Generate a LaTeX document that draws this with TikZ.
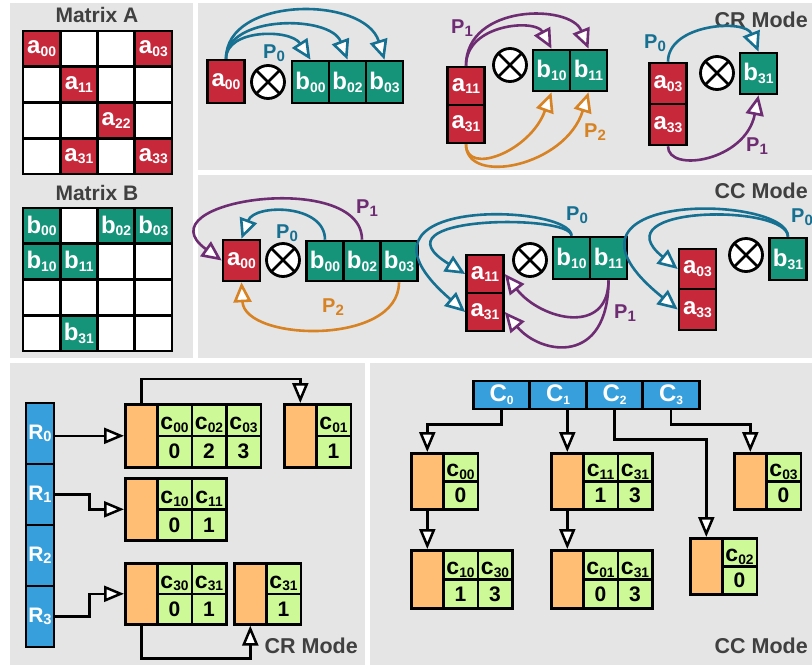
\documentclass[tikz,border=0pt]{standalone}
\usepackage{fontspec}
\setmainfont{Liberation Sans}
\usetikzlibrary{arrows.meta}

\definecolor{ared}{RGB}{199,40,58}
\definecolor{bteal}{RGB}{22,148,122}
\definecolor{pblue}{RGB}{22,112,145}
\definecolor{ppurple}{RGB}{110,45,115}
\definecolor{porange}{RGB}{215,130,35}
\definecolor{rowblue}{RGB}{55,160,220}
\definecolor{ptrfill}{RGB}{255,190,115}
\definecolor{idxfill}{RGB}{205,250,150}
\definecolor{panel}{RGB}{229,229,229}
\definecolor{title}{RGB}{64,64,64}

\newcommand\fsz[1]{\fontsize{#1}{#1}\selectfont\bfseries}
% lowered subscript, size relative to the current font
\newcommand\lo[2][0.58]{\raisebox{-0.12em}{\fontsize{#1em}{#1em}\selectfont #2}}

% pointer box followed by index/value cells
\newcommand\listblk[5]{%
  \node[ptr, minimum height=#4pt, anchor=north west] (#1) at (#2,#3) {};
  \foreach \ix/\vx [count=\k from 0] in {#5} {
    \node[idx, minimum height=#4pt/2, anchor=north west] (#1-i\k)
      at ({#2+32+34.5*\k},#3) {c\lo[0.6]{\ix}};
    \node[val, minimum height=#4pt/2, anchor=north west] (#1-v\k)
      at ({#2+32+34.5*\k},{#3+#4/2}) {\vx};
  }}

\begin{document}
\begin{tikzpicture}[x=1pt, y=-1pt,
    elt/.style={draw, line width=2.6pt, text=white, inner sep=0pt, font=\fsz{24},
      minimum width=37pt, minimum height=40pt},
    aelt/.style={elt, fill=ared},
    belt/.style={elt, fill=bteal},
    msize/.style={minimum width=37.25pt, minimum height=35.75pt},
    mcell/.style={draw, line width=2.8pt, fill=white, msize, inner sep=0pt},
    otimes/.style={circle, draw, line width=2.8pt, fill=white, minimum size=33pt,
      inner sep=0pt, path picture={
        \draw[line width=2.8pt] (path picture bounding box.north west) --
          (path picture bounding box.south east)
          (path picture bounding box.north east) --
          (path picture bounding box.south west);}},
    flow/.style={line width=2.6pt, -{Triangle[length=20pt, width=18pt, fill=white]}},
    link/.style={line width=2.5pt, -{Triangle[length=20pt, width=16pt, fill=white]}},
    plabel/.style={font=\fsz{20}, inner sep=0pt},
    modetitle/.style={font=\fsz{21.5}, text=title, anchor=east, inner sep=0pt},
    ptr/.style={draw, line width=2.6pt, fill=ptrfill, minimum width=32pt, inner sep=0pt},
    idx/.style={draw, line width=2.6pt, fill=idxfill, minimum width=34.5pt,
      inner sep=0pt, font=\fsz{23}, text height=19pt, text depth=0pt},
    val/.style={draw, line width=2.6pt, fill=idxfill, minimum width=34.5pt,
      inner sep=0pt, font=\fsz{21}},
    rowbox/.style={draw, line width=2.6pt, fill=rowblue, text=white, minimum width=28pt,
      minimum height=61pt, inner sep=0pt, font=\fsz{21}},
    colbox/.style={draw, line width=2.6pt, fill=rowblue, text=white, minimum width=56.5pt,
      minimum height=28pt, inner sep=0pt, font=\fsz{24}}]

  \path[use as bounding box, fill=white] (0,0) rectangle (812,665);
  \fill[panel] (10,3) rectangle (193,358);
  \fill[panel] (198,3) rectangle (812,170);
  \fill[panel] (198,175) rectangle (812,358);
  \fill[panel] (10,363) rectangle (365,665);
  \fill[panel] (370,363) rectangle (812,665);

  % sparse matrices
  \node[font=\fsz{21}, text=title] (titA) at (97,15) {Matrix A};
  \node[font=\fsz{21}, text=title] (titB) at (97,193) {Matrix B};
  \foreach \mr in {0,...,3}
    \foreach \mc in {0,...,3} {
      \node[mcell] (mA\mr\mc) at ({41.6+37.25*\mc},{48.9+35.75*\mr}) {};
      \node[mcell] (mB\mr\mc) at ({41.6+37.25*\mc},{225.9+35.75*\mr}) {};
    }
  \foreach \mr/\mc in {0/0,0/3,1/1,2/2,3/1,3/3}
    \node[aelt, msize, line width=2.8pt] (eA\mr\mc) at (mA\mr\mc) {a\lo{\mr\mc}};
  \foreach \mr/\mc in {0/0,0/2,0/3,1/0,1/1,3/1}
    \node[belt, msize, line width=2.8pt] (eB\mr\mc) at (mB\mr\mc) {b\lo{\mr\mc}};

  % CR mode
  \node[modetitle] (crtit) at (808,20) {CR Mode};
  \node[aelt, minimum height=43pt] (cra00) at (226,81.5) {a\lo{00}};
  \node[otimes] (crx0) at (268,82) {};
  \node[belt, minimum height=42pt] (crb00) at (310.5,82) {b\lo{00}};
  \node[belt, minimum height=42pt] (crb02) at (347.5,82) {b\lo{02}};
  \node[belt, minimum height=42pt] (crb03) at (384.5,82) {b\lo{03}};
  \node[aelt, minimum height=38pt] (cra11) at (466,86) {a\lo{11}};
  \node[aelt, minimum height=38pt] (cra31) at (466,124) {a\lo{31}};
  \node[otimes] (crx1) at (510,65) {};
  \node[belt, minimum height=41pt] (crb10) at (551.5,70.5) {b\lo{10}};
  \node[belt, minimum height=41pt] (crb11) at (588.5,70.5) {b\lo{11}};
  \node[aelt, minimum height=41pt] (cra03) at (668,83.5) {a\lo{03}};
  \node[aelt, minimum height=41pt] (cra33) at (668,124.5) {a\lo{33}};
  \node[otimes] (crx2) at (717,73) {};
  \node[belt, minimum height=41pt] (crb31) at (758.5,73.5) {b\lo{31}};

  \draw[flow, pblue] (cra00.north) .. controls +(0,-30) and +(-20,-31) .. (crb00.north);
  \draw[flow, pblue] (cra00.north) .. controls +(0,-44) and +(-17,-45) .. (crb02.north);
  \draw[flow, pblue] (cra00.north) .. controls +(0,-63) and +(-20,-64) .. (crb03.north);
  \draw[flow, ppurple] (cra11.north) .. controls +(0,-42) and +(-16,-30) .. (crb10.north);
  \draw[flow, ppurple] (cra11.north) .. controls +(0,-62) and +(-18,-45) .. (crb11.north);
  \draw[flow, porange] (cra31.south) .. controls +(0,32) and +(-21,59) .. (crb10.south);
  \draw[flow, porange] (cra31.south) .. controls +(0,42) and +(-23,74) .. (crb11.south);
  \draw[flow, pblue] (cra03.north) .. controls +(0,-38) and +(-13,-33) .. (crb31.north);
  \draw[flow, ppurple] (cra33.south) .. controls +(0,27) and +(-13,66) .. (crb31.south);

  \node[plabel, text=pblue] (crp0a) at (274,53) {P\lo[0.75]{0}};
  \node[plabel, text=ppurple] (crp1a) at (462,28) {P\lo[0.75]{1}};
  \node[plabel, text=porange] (crp2a) at (595,132) {P\lo[0.75]{2}};
  \node[plabel, text=pblue] (crp0b) at (655,43) {P\lo[0.75]{0}};
  \node[plabel, text=ppurple] (crp1b) at (757,146) {P\lo[0.75]{1}};

  % CC mode
  \node[modetitle] (cctit) at (808,191) {CC Mode};
  \node[aelt, minimum height=41pt] (cca00) at (241.5,260.5) {a\lo{00}};
  \node[otimes] (ccx0) at (283,260) {};
  \node[belt] (ccb00) at (325,261) {b\lo{00}};
  \node[belt] (ccb02) at (362,261) {b\lo{02}};
  \node[belt] (ccb03) at (399,261) {b\lo{03}};
  \node[aelt, minimum height=38pt] (cca11) at (485,274) {a\lo{11}};
  \node[aelt, minimum height=38pt] (cca31) at (485,312) {a\lo{31}};
  \node[otimes] (ccx1) at (530,260) {};
  \node[belt, minimum height=42pt] (ccb10) at (571.5,258) {b\lo{10}};
  \node[belt, minimum height=42pt] (ccb11) at (608.5,258) {b\lo{11}};
  \node[aelt] (cca03) at (697.5,269) {a\lo{03}};
  \node[aelt, minimum height=41pt] (cca33) at (697.5,309.5) {a\lo{33}};
  \node[otimes] (ccx2) at (746,255) {};
  \node[belt, minimum height=42pt] (ccb31) at (788,259) {b\lo{31}};

  \draw[flow, pblue] (ccb00.north) .. controls +(0,-36) and +(13,-35) .. (cca00.north);
  \draw[flow, ppurple] (ccb02.north) .. controls +(0,-71) and +(-83,-60) .. (cca00.west);
  \draw[flow, porange] (ccb03.south) .. controls +(0,64) and +(3,59) .. (cca00.south);
  \draw[flow, pblue] (ccb10.north) .. controls +(0,-22) and +(-96,-59) .. (cca11.west);
  \draw[flow, pblue] (ccb10.north) .. controls +(0,-32) and +(-136,-117) .. (cca31.west);
  \draw[flow, ppurple] (ccb11.south) .. controls +(0,56) and +(36,46) .. (cca11.east);
  \draw[flow, ppurple] (ccb11.south) .. controls +(0,86) and +(36,43) .. (cca31.east);
  \draw[flow, pblue] (ccb31.north) .. controls +(0,-33) and +(-79,-64) .. (cca03.west);
  \draw[flow, pblue] (ccb31.north) .. controls +(0,-43) and +(-149,-119.5) .. (cca33.west);

  \node[plabel, text=pblue] (ccp0a) at (287,233) {P\lo[0.75]{0}};
  \node[plabel, text=ppurple] (ccp1a) at (367,208) {P\lo[0.75]{1}};
  \node[plabel, text=porange] (ccp2a) at (333,307) {P\lo[0.75]{2}};
  \node[plabel, text=pblue] (ccp0b) at (577,215) {P\lo[0.75]{0}};
  \node[plabel, text=ppurple] (ccp1b) at (625,313) {P\lo[0.75]{1}};
  \node[plabel, text=pblue] (ccp0c) at (802,217) {P\lo[0.75]{0}};

  % row lists
  \foreach \i in {0,...,3}
    \node[rowbox] (R\i) at (40,{433.5+61*\i}) {R\lo[0.7]{\i}};
  \listblk{rb0}{124}{403}{63}{00/0,02/2,03/3}
  \listblk{rb0x}{283}{403}{63}{01/1}
  \listblk{rb1}{124}{477}{62}{10/0,11/1}
  \listblk{rb3}{124}{562}{61}{30/0,31/1}
  \listblk{rb3x}{233}{562}{61}{31/1}
  \draw[link] (R0.east |- rb0.west) -- (rb0.west);
  \draw[link] (R1.east) -- ++(34,0) |- (rb1.west);
  \draw[link] (R3.east) -- ++(34,0) |- (rb3.west);
  \draw[link] (rb0.north) -- ++(0,-24) -| (rb0x.north);
  \draw[link] (rb3.south) -- ++(0,33) -| (rb3x.south);
  \node[modetitle] (rtit) at (358,646) {CR Mode};

  % column lists
  \foreach \i in {0,...,3}
    \node[colbox] (C\i) at ({501.5+56.5*\i},395) {C\lo[0.5]{\i}};
  \listblk{cb0}{410}{452}{56}{00/0}
  \listblk{cb0x}{410}{549}{58}{10/1,30/3}
  \listblk{cb1}{550}{452}{56}{11/1,31/3}
  \listblk{cb1x}{550}{549}{58}{01/0,31/3}
  \listblk{cb2}{689}{537}{56}{02/0}
  \listblk{cb3}{733}{452}{56}{03/0}
  \draw[link] (C0.south) -- ++(0,14) -| (cb0.north);
  \draw[link] (C1.south -| cb1.north) -- (cb1.north);
  \draw[link] (C2.south) -- ++(0,29) -| (cb2.north);
  \draw[link] (C3.south) -- ++(0,14) -| (cb3.north);
  \draw[link] (cb0.south) -- (cb0x.north);
  \draw[link] (cb1.south) -- (cb1x.north);
  \node[modetitle] (ctit) at (808,646) {CC Mode};
\end{tikzpicture}
\end{document}
